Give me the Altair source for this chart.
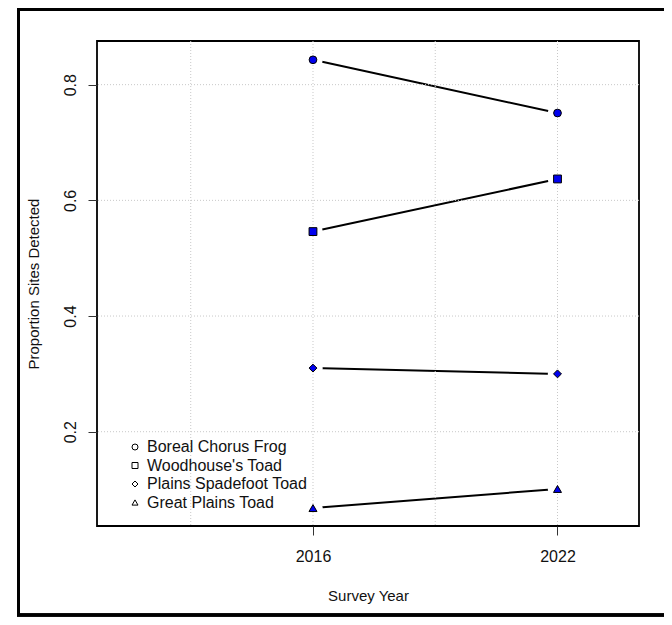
import altair as alt
import pandas as pd

# ---- data ----
years = [2016, 2022]
species = ["Boreal Chorus Frog", "Woodhouse's Toad", "Plains Spadefoot Toad", "Great Plains Toad"]
boreal_chorus_frog = [0.843, 0.751]
woodhouses_toad = [0.546, 0.637]
plains_spadefoot_toad = [0.310, 0.300]
great_plains_toad = [0.068, 0.101]
shapes = ["circle", "square", "diamond", "triangle-up"]

x_ticks = [2016, 2022]
y_ticks = [0.2, 0.4, 0.6, 0.8]
grid_x = [2013, 2016, 2019, 2022]
grid_y = [0.2, 0.4, 0.6, 0.8]

series = [boreal_chorus_frog, woodhouses_toad, plains_spadefoot_toad, great_plains_toad]
rows = []
for name, vals in zip(species, series):
    for yr, v in zip(years, vals):
        rows.append({"Species": name, "Year": yr, "Proportion": v})
df = pd.DataFrame(rows)
gx = pd.DataFrame({"gx": grid_x})
gy = pd.DataFrame({"gy": grid_y})

FONT = "Liberation Sans"
W, H = 542, 485

xscale = alt.Scale(domain=[2010.7, 2024.0], nice=False, zero=False)
yscale = alt.Scale(domain=[0.037, 0.8755], nice=False, zero=False)
shape_scale = alt.Scale(domain=species, range=shapes)

xaxis = alt.Axis(values=x_ticks, format="d", grid=False, domain=False,
                 tickSize=9, tickColor="#333333", tickWidth=1,
                 labelFont=FONT, labelFontSize=16, labelColor="#111111",
                 labelPadding=13, labelBaseline="top",
                 title="Survey Year", titleFont=FONT, titleFontSize=15,
                 titleFontWeight="normal", titleColor="#111111",
                 titleX=W / 2, titleY=69, titleBaseline="middle", titleAlign="center")
yaxis = alt.Axis(values=y_ticks, format=".1f", grid=False, domain=False,
                 tickSize=9, tickColor="#333333", tickWidth=1,
                 labelFont=FONT, labelFontSize=16, labelColor="#111111",
                 labelAngle=270, labelAlign="center", labelBaseline="alphabetic",
                 labelPadding=13,
                 title="Proportion Sites Detected", titleFont=FONT, titleFontSize=15,
                 titleFontWeight="normal", titleColor="#111111",
                 titleAngle=270, titleX=-59, titleY=H / 2,
                 titleBaseline="alphabetic", titleAlign="center")

base = alt.Chart(df)

lines = base.mark_line(color="black", strokeWidth=2).encode(
    x=alt.X("Year:Q", scale=xscale, axis=xaxis),
    y=alt.Y("Proportion:Q", scale=yscale, axis=yaxis),
    detail="Species:N",
)

halo = base.mark_point(filled=True, color="white", opacity=1, size=380, shape="circle").encode(
    x=alt.X("Year:Q", scale=xscale),
    y=alt.Y("Proportion:Q", scale=yscale),
)

vgrid = alt.Chart(gx).mark_rule(color="#c8c8c8", strokeWidth=1, strokeDash=[1, 2]).encode(
    x=alt.X("gx:Q", scale=xscale)
)
hgrid = alt.Chart(gy).mark_rule(color="#c8c8c8", strokeWidth=1, strokeDash=[1, 2]).encode(
    y=alt.Y("gy:Q", scale=yscale)
)

# open-symbol layer that carries the legend (hidden under the filled points)
legend_layer = base.mark_point(filled=False, color="black", strokeWidth=1, opacity=1,
                               size=30).encode(
    x=alt.X("Year:Q", scale=xscale),
    y=alt.Y("Proportion:Q", scale=yscale),
    shape=alt.Shape("Species:N", scale=shape_scale, sort=species,
                    legend=alt.Legend(
                        title=None, orient="none", legendX=30, legendY=398,
                        labelFont=FONT, labelFontSize=16, labelColor="#111111",
                        labelLimit=400,
                        symbolSize=36, symbolStrokeWidth=1, labelOffset=4,
                        rowPadding=2.5, padding=0)),
)

points = base.mark_point(filled=True, fill="#0000ee", stroke="black", strokeWidth=1,
                         opacity=1).encode(
    x=alt.X("Year:Q", scale=xscale),
    y=alt.Y("Proportion:Q", scale=yscale),
    shape=alt.Shape("Species:N", scale=shape_scale, sort=species, legend=None),
    size=alt.Size("Species:N", scale=alt.Scale(domain=species, range=[60, 64, 150, 85]),
                  legend=None),
)

# outer figure frame
frame_left = alt.Chart(gx).mark_rule(color="black", strokeWidth=3).encode(
    x=alt.value(-78.5), y=alt.value(-40), y2=alt.value(574))
frame_top = alt.Chart(gx).mark_rule(color="black", strokeWidth=3).encode(
    x=alt.value(-80), x2=alt.value(600), y=alt.value(-31.5))
frame_bottom = alt.Chart(gx).mark_rule(color="black", strokeWidth=3).encode(
    x=alt.value(-80), x2=alt.value(600), y=alt.value(574))

chart = alt.layer(
    frame_left, frame_top, frame_bottom, lines, halo, vgrid, hgrid, legend_layer, points
).resolve_legend(shape="independent").properties(
    width=W, height=H,
    background="white",
    autosize=alt.AutoSizeParams(type="none"),
    padding={"left": 89, "top": 33, "right": 25, "bottom": 91},
).configure_view(stroke="black", strokeWidth=1.8)

chart.save("out.html", embed_options={"renderer": "svg", "actions": False})
